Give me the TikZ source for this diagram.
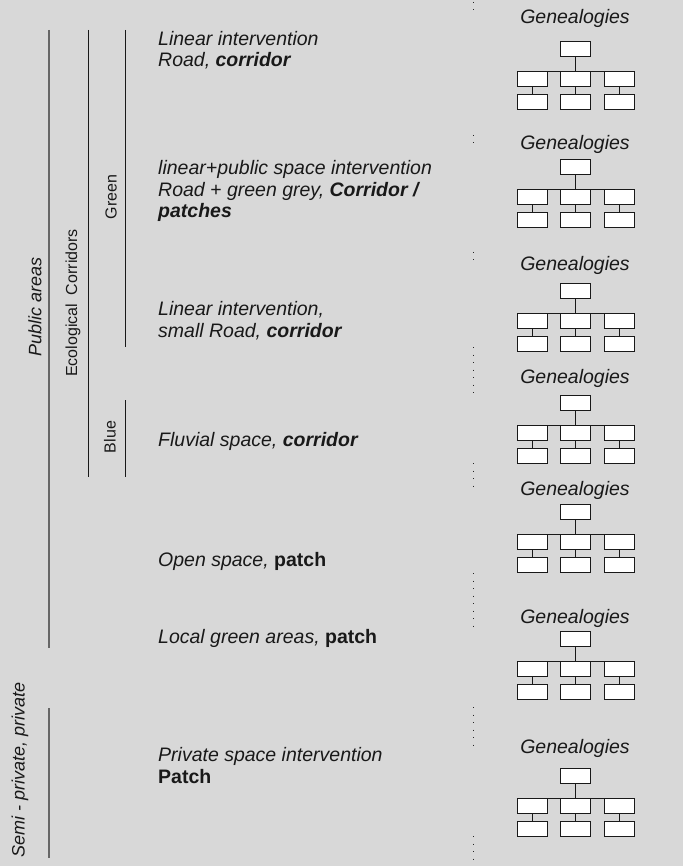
\documentclass[tikz,border=0pt]{standalone}
\usepackage{fontspec}
\setmainfont{Liberation Sans}
\usepackage{tikz}
\definecolor{bggrey}{RGB}{216,216,216}
\definecolor{ink}{RGB}{25,25,25}
\tikzset{gbox/.style = {draw=ink, fill=white, semithick, rectangle, minimum height=15pt, minimum width=30pt, inner sep=0pt, anchor=north},
         glink/.style = {draw=ink, semithick},
         item/.style = {anchor=base west, align=left, inner sep=0pt, text=ink, font=\fontsize{19.5}{21.5}\selectfont\itshape},
         gtitle/.style = {anchor=base, inner sep=0pt, text=ink, font=\fontsize{19.5}{21.5}\selectfont\itshape},
         side/.style = {rotate=90, inner sep=0pt, text=ink, font=\fontsize{16}{18}\selectfont},
         sep/.style = {draw=black!85, line width=1pt, dash pattern=on 1pt off 6.5pt}}
\newcommand{\kw}[1]{\textbf{#1}}
\newcommand{\kwup}[1]{{\bfseries\upshape #1}}

\begin{document}
\begin{tikzpicture}[x=1pt,y=-1pt]
        \fill[bggrey] (0,0) rectangle (683,866);
        \useasboundingbox (0,0) rectangle (683,866);
        \draw[line width=1.2pt, draw=black!60] (49,30) -- (49,648);
        \draw[line width=1.2pt, draw=black!60] (49,708) -- (49,858);
        \draw[draw=ink, line width=0.8pt] (88,30) -- (88,477);
        \draw[draw=ink, line width=0.8pt] (125,30) -- (125,347);
        \draw[draw=ink, line width=0.8pt] (125,400) -- (125,477);
        \node[side, font=\fontsize{18}{20}\selectfont\itshape](public)at(35,307){Public areas};
        \node[side](eco)at(73,303){Ecological\ \ Corridors};
        \node[side](green)at(111,197){Green};
        \node[side](blue)at(110,437){Blue};
        \node[side, font=\fontsize{18}{20}\selectfont\itshape](semi)at(20,770){Semi - private, private};
        \node[item](road)at(158,67){Linear intervention\\Road, \kw{corridor}};
        \node[item](mixed)at(158,218){linear+public space intervention\\Road + green grey, \kw{Corridor /}\\\kw{patches}};
        \node[item](small)at(158,337){Linear intervention,\\small Road, \kw{corridor}};
        \node[item](fluvial)at(158,446){Fluvial space, \kw{corridor}};
        \node[item](open)at(158,566){Open space, \kwup{patch}};
        \node[item](local)at(158,643){Local green areas, \kwup{patch}};
        \node[item](private)at(158,783){Private space intervention\\\kwup{Patch}};
        \foreach \a/\b in {2/10,135/150,252/267,347/394,463/489,573/627,707/752,836/859}
            \draw[sep](473,\a)--(473,\b);
        \foreach \ty/\by [count=\i] in {24/41,150/159,271/283,383/395,495/504,623/631,753/768}{
            \node[gtitle](title\i)at(575,\ty){Genealogies};
            \node[gbox](root\i)at(575,\by){};
            \foreach \c/\cx in {a/532,b/575,c/619}{
                \node[gbox](mid\c\i)at(\cx,{\by+30}){};
                \node[gbox](leaf\c\i)at(\cx,{\by+53}){};
                \draw[glink](mid\c\i)--(leaf\c\i);}
            \draw[glink](mida\i.north)--(midc\i.north);
            \draw[glink](root\i)--(midb\i);
        }
    \end{tikzpicture}
\end{document}
